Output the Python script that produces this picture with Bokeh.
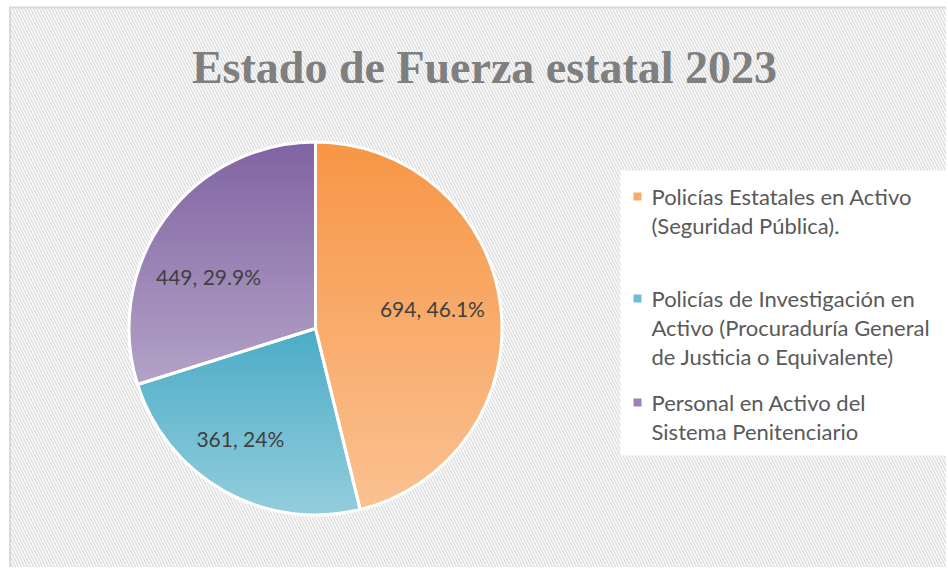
import numpy as np
from bokeh.plotting import figure
from bokeh.models import Range1d, BoxAnnotation
from bokeh.embed import file_html
from bokeh.resources import INLINE
from bokeh.core.properties import value

# ---------------- data ----------------
title_text = "Estado de Fuerza estatal 2023"
categories = [
    "Policías Estatales en Activo (Seguridad Pública).",
    "Policías de Investigación en Activo (Procuraduría General de Justicia o Equivalente)",
    "Personal en Activo del Sistema Penitenciario",
]
legend_lines = [
    ["Policías Estatales en Activo", "(Seguridad Pública)."],
    ["Policías de Investigación en", "Activo (Procuraduría General", "de Justicia o Equivalente)"],
    ["Personal en Activo del", "Sistema Penitenciario"],
]
values = [694, 361, 449]

# ---------------- style ----------------
top_colors = ["#F79646", "#4BACC6", "#8064A2"]
bottom_colors = ["#FAC191", "#93CDDD", "#B3A2C7"]
mid_colors = ["#F8AB6B", "#6FBDD2", "#9983B5"]

W, H = 946, 567
CX, CY, R = 315, 239, 186.5
label_r = [0.636, 0.713, 0.638]
label_da = [0.047, -0.089, 0.18]   # small angular nudges (radians) for best-fit look

p = figure(width=W, height=H, output_backend="svg", toolbar_location=None,
           x_range=Range1d(0, W), y_range=Range1d(0, H), min_border=0,
           match_aspect=False)
p.axis.visible = False
p.grid.visible = False
p.background_fill_color = "white"
p.border_fill_color = "white"
p.outline_line_color = None

# hatched chart area
p.add_layout(BoxAnnotation(left=9.5, right=W + 6, bottom=-6, top=H - 7,
                           fill_color="white", fill_alpha=1.0, hatch_pattern="\\",
                           hatch_color="#dedede", hatch_scale=6, hatch_weight=1.5,
                           line_color=None, level="underlay"))
# left and top chart border
p.add_layout(BoxAnnotation(left=8.5, right=10.5, bottom=-6, top=H - 6,
                           fill_color="#d9d9d9", fill_alpha=1.0, line_color=None, level="underlay"))
p.add_layout(BoxAnnotation(left=8.5, right=W + 6, bottom=H - 8, top=H - 6,
                           fill_color="#d9d9d9", fill_alpha=1.0, line_color=None, level="underlay"))
# legend white area
p.add_layout(BoxAnnotation(left=620, right=W + 6, bottom=112, top=397, fill_color="white",
                           fill_alpha=1.0, line_color=None, level="underlay"))

total = float(sum(values))
fracs = np.array(values) / total
cum = np.concatenate([[0.0], np.cumsum(fracs)])
starts = np.pi / 2 - 2 * np.pi * cum[:-1]
ends = np.pi / 2 - 2 * np.pi * cum[1:]

# base wedges (data driven)
p.wedge(x=[CX] * 3, y=[CY] * 3, radius=R, start_angle=list(starts), end_angle=list(ends),
        direction="clock", fill_color=mid_colors, line_color=None)


def hex2rgb(h):
    h = h.lstrip("#")
    return np.array([int(h[i:i + 2], 16) for i in (0, 2, 4)], dtype=float)


def clip(poly, y0, keep_above):
    out = []
    n = len(poly)
    for i in range(n):
        a = poly[i]
        b = poly[(i + 1) % n]
        ina = a[1] >= y0 if keep_above else a[1] <= y0
        inb = b[1] >= y0 if keep_above else b[1] <= y0
        if ina:
            out.append(a)
        if ina != inb:
            t = (y0 - a[1]) / (b[1] - a[1])
            out.append((a[0] + t * (b[0] - a[0]), y0))
    return out


# vertical gradient overlay inside each wedge
xs_all, ys_all, cols_all = [], [], []
NB = 70
for i in range(3):
    th = np.linspace(starts[i], ends[i], 240)
    poly = [(CX, CY)] + [(CX + R * np.cos(t), CY + R * np.sin(t)) for t in th]
    ys = [q[1] for q in poly]
    ymin, ymax = min(ys), max(ys)
    h = (ymax - ymin) / NB
    c0, c1 = hex2rgb(top_colors[i]), hex2rgb(bottom_colors[i])
    for k in range(NB):
        yhi = ymax - k * h + 0.7
        ylo = ymax - (k + 1) * h - 0.7
        part = clip(clip(poly, ylo, True), yhi, False)
        if len(part) < 3:
            continue
        t = k / (NB - 1)
        c = (c0 * (1 - t) + c1 * t).round().astype(int)
        xs_all.append([q[0] for q in part])
        ys_all.append([q[1] for q in part])
        cols_all.append("#%02x%02x%02x" % tuple(c))
p.patches(xs_all, ys_all, fill_color=cols_all, line_color=None)

# white separators / outline
p.wedge(x=[CX] * 3, y=[CY] * 3, radius=R, start_angle=list(starts), end_angle=list(ends),
        direction="clock", fill_color=None, line_color="white", line_width=3)

# data labels
mids = (starts + ends) / 2 + np.array(label_da)
lab_txt = ["%d, %s%%" % (v, format(round(f * 100, 1), "g")) for v, f in zip(values, fracs)]
lx = [CX + r * R * np.cos(a) for r, a in zip(label_r, mids)]
ly = [CY + r * R * np.sin(a) for r, a in zip(label_r, mids)]
p.text(x=lx, y=ly, text=lab_txt, text_align="center", text_baseline="middle",
       text_font=value("Lato"), text_font_size="21px", text_color="#404040")

# title
p.text(x=[484], y=[500], text=[title_text], text_align="center",
       text_baseline="alphabetic", text_font=value("Liberation Serif"),
       text_font_style="bold", text_font_size="46px", text_color="#7f7f7f")

# legend (manual, multi-line)
entry_top = [371, 269, 165]
line_gap = 29
mk_x = 637
tx_x = 651
p.scatter(x=[mk_x] * 3, y=entry_top, marker="square", size=8,
          fill_color=mid_colors, line_color=None)
lx2, ly2, lt2 = [], [], []
for i, lines in enumerate(legend_lines):
    for j, s in enumerate(lines):
        lx2.append(tx_x)
        ly2.append(entry_top[i] - j * line_gap)
        lt2.append(s)
p.text(x=lx2, y=ly2, text=lt2, text_align="left", text_baseline="middle",
       text_font=value("Lato"), text_font_size="22px", text_color="#595959")

open("out.html", "w").write(file_html(p, INLINE))
